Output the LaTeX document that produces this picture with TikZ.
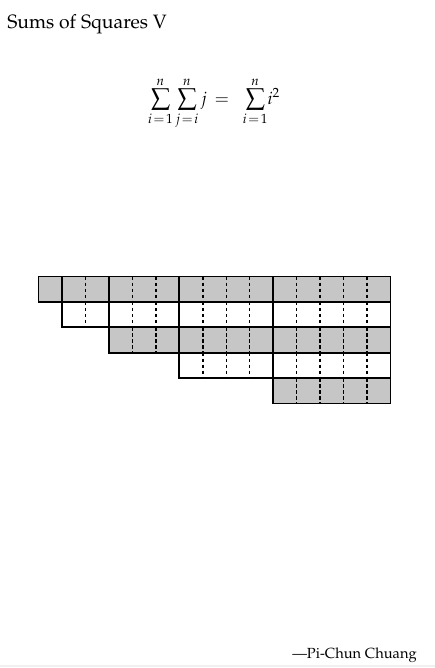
\documentclass[tikz,border=0pt]{standalone}
\usepackage[T1]{fontenc}
\usepackage{mathpazo}
\DeclareMathSizes{13}{13}{10}{7.5}
\begin{document}
\begin{tikzpicture}[x=0.75pt,y=-0.75pt,
  blockline/.style={line width=1.3pt, line join=miter},
  divline/.style={line width=1.1pt, dash pattern=on 2.6pt off 1.9pt},
  shade/.style={fill=gray!45}]
\useasboundingbox (0,0) rectangle (435,668);
\node[anchor=base west, inner sep=0pt, font=\fontsize{14.5}{17}\selectfont] (title) at (7,28) {Sums of Squares V};
\node[inner sep=0pt, font=\fontsize{13}{15}\selectfont] (formula) at (214,103)
  {$\displaystyle\sum_{i\mkern2mu=\mkern2mu1}^{n}\sum_{j\mkern2mu=\mkern2mu i}^{n} j \mkern3mu=\mkern9mu \sum_{i\mkern2mu=\mkern2mu1}^{n}\! i^{2}$};
\foreach \r in {1,...,5}{
  \foreach \j in {\r,...,5}{
    \pgfmathsetmacro\xa{38.5+23.47*(\j-1)*\j/2}
    \pgfmathsetmacro\xb{38.5+23.47*\j*(\j+1)/2}
    \pgfmathsetmacro\ya{276.5+25.4*(\r-1)}
    \pgfmathsetmacro\yb{\ya+25.4}
    \ifodd\r
      \fill[shade] (\xa,\ya) rectangle (\xb,\yb);
    \fi
    \ifnum\j>1
      \pgfmathtruncatemacro\jm{\j-1}
      \foreach \k in {1,...,\jm}{
        \pgfmathsetmacro\xk{\xa+23.47*\k}
        \draw[divline] (\xk,\ya) -- (\xk,\yb);
      }
    \fi
    \draw[blockline] (\xa,\ya) rectangle (\xb,\yb);
  }
}
\node[anchor=base east, inner sep=0pt, font=\fontsize{11}{13}\selectfont] (author) at (417,658) {---Pi-Chun Chuang};
\draw[gray!12, line width=0.8pt] (0,666) -- (435,666);
\end{tikzpicture}
\end{document}
